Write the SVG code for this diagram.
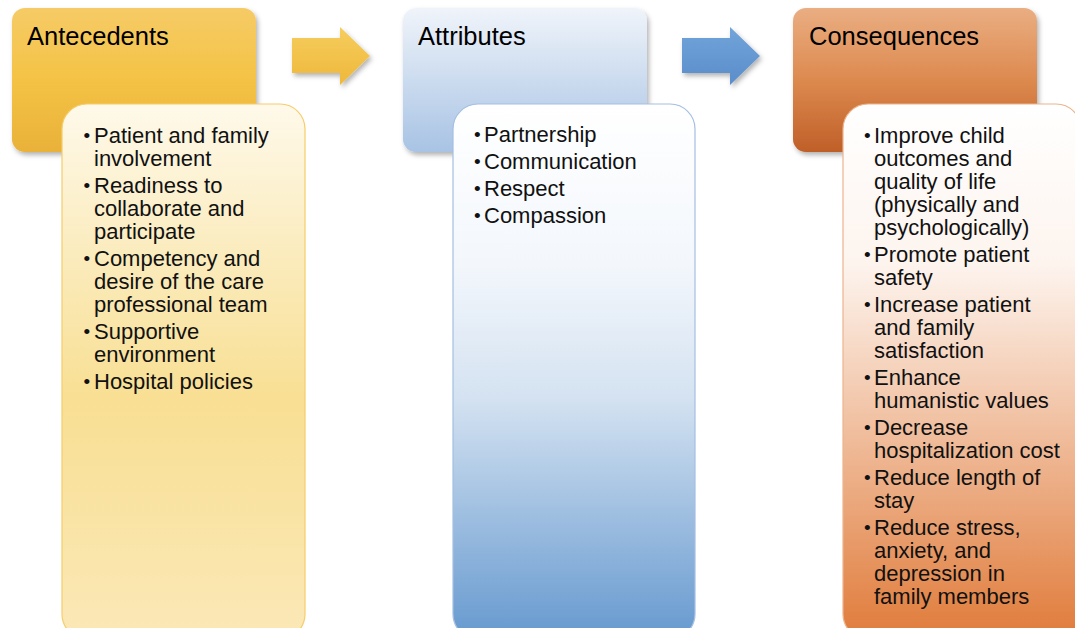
<svg xmlns="http://www.w3.org/2000/svg" width="1075" height="628" viewBox="0 0 1075 628">
<defs>
<linearGradient id="gYH" x1="0" y1="0" x2="0" y2="1"><stop offset="0" stop-color="#f6cb66"/><stop offset="0.5" stop-color="#f4c345"/><stop offset="1" stop-color="#e9b139"/></linearGradient>
<linearGradient id="gYD" x1="0" y1="0" x2="0" y2="1"><stop offset="0" stop-color="#fef9ea"/><stop offset="0.55" stop-color="#f8df93"/><stop offset="1" stop-color="#fbe8b7"/></linearGradient>
<linearGradient id="gBH" x1="0" y1="0" x2="0" y2="1"><stop offset="0" stop-color="#f0f4fa"/><stop offset="1" stop-color="#a8c3e4"/></linearGradient>
<linearGradient id="gBD" x1="0" y1="0" x2="0" y2="1"><stop offset="0" stop-color="#ffffff"/><stop offset="0.3" stop-color="#f3f7fc"/><stop offset="0.55" stop-color="#d4e2f1"/><stop offset="1" stop-color="#6699cf"/></linearGradient>
<linearGradient id="gOH" x1="0" y1="0" x2="0" y2="1"><stop offset="0" stop-color="#eaae82"/><stop offset="0.5" stop-color="#dd8a4f"/><stop offset="1" stop-color="#bf5f28"/></linearGradient>
<linearGradient id="gOD" x1="0" y1="0" x2="0" y2="1"><stop offset="0" stop-color="#ffffff"/><stop offset="0.3" stop-color="#fdf4ee"/><stop offset="1" stop-color="#e07b3a"/></linearGradient>
<linearGradient id="gYA" x1="0" y1="0" x2="0" y2="1"><stop offset="0" stop-color="#f6cd5e"/><stop offset="1" stop-color="#eeb83a"/></linearGradient>
<linearGradient id="gBA" x1="0" y1="0" x2="0" y2="1"><stop offset="0" stop-color="#72a4da"/><stop offset="1" stop-color="#5a8dca"/></linearGradient>
<filter id="sh" x="-10%" y="-10%" width="130%" height="130%"><feDropShadow dx="2" dy="3" stdDeviation="2.5" flood-color="#000" flood-opacity="0.3"/></filter>
</defs>
<style>
.h{font-family:"Liberation Sans",Arial,sans-serif;font-size:25.5px;fill:#000}
.t{font-family:"Liberation Sans",Arial,sans-serif;font-size:22px;fill:#111}
.b{font-size:19px}
</style>
<rect width="1075" height="628" fill="#ffffff"/>
<g id="connectors">
<path d="M292,38 H340 V27 L370,56 L340,85 V73 H292 Z" fill="url(#gYA)" filter="url(#sh)"/>
<path d="M682,38 H730 V27 L760,56 L730,85 V73 H682 Z" fill="url(#gBA)" filter="url(#sh)"/>
</g>
<g id="antecedents">
<rect x="12" y="8" width="244" height="144" rx="13" fill="url(#gYH)" filter="url(#sh)"/>
<text class="h" x="27" y="45">Antecedents</text>
</g>
<g id="antecedents-list">
<rect x="62" y="104" width="243" height="535" rx="25" fill="url(#gYD)" stroke="#f6cd6b" stroke-width="1.2"/>
<g class="t">
<text class="b" x="83.5" y="142">•</text>
<text x="94" y="143">Patient and family</text>
<text x="94" y="166">involvement</text>
<text class="b" x="83.5" y="192">•</text>
<text x="94" y="193">Readiness to</text>
<text x="94" y="216">collaborate and</text>
<text x="94" y="239">participate</text>
<text class="b" x="83.5" y="265">•</text>
<text x="94" y="266">Competency and</text>
<text x="94" y="289">desire of the care</text>
<text x="94" y="312">professional team</text>
<text class="b" x="83.5" y="338">•</text>
<text x="94" y="339">Supportive</text>
<text x="94" y="362">environment</text>
<text class="b" x="83.5" y="388">•</text>
<text x="94" y="389">Hospital policies</text>
</g>
</g>
<g id="attributes">
<rect x="403" y="8" width="244" height="144" rx="13" fill="url(#gBH)" filter="url(#sh)"/>
<text class="h" x="418" y="45">Attributes</text>
</g>
<g id="attributes-list">
<rect x="453" y="104" width="242" height="535" rx="25" fill="url(#gBD)" stroke="#a4bfe2" stroke-width="1.2"/>
<g class="t">
<text class="b" x="474" y="141">•</text>
<text x="484" y="142">Partnership</text>
<text class="b" x="474" y="168">•</text>
<text x="484" y="169">Communication</text>
<text class="b" x="474" y="195">•</text>
<text x="484" y="196">Respect</text>
<text class="b" x="474" y="222">•</text>
<text x="484" y="223">Compassion</text>
</g>
</g>
<g id="consequences">
<rect x="793" y="8" width="244" height="144" rx="13" fill="url(#gOH)" filter="url(#sh)"/>
<text class="h" x="809" y="45">Consequences</text>
</g>
<g id="consequences-list">
<rect x="843" y="104" width="238" height="535" rx="25" fill="url(#gOD)" stroke="#ecb48d" stroke-width="1.2"/>
<g class="t">
<text class="b" x="864" y="142">•</text>
<text x="874" y="143">Improve child</text>
<text x="874" y="166">outcomes and</text>
<text x="874" y="189">quality of life</text>
<text x="874" y="212">(physically and</text>
<text x="874" y="235">psychologically)</text>
<text class="b" x="864" y="261">•</text>
<text x="874" y="262">Promote patient</text>
<text x="874" y="285">safety</text>
<text class="b" x="864" y="311">•</text>
<text x="874" y="312">Increase patient</text>
<text x="874" y="335">and family</text>
<text x="874" y="358">satisfaction</text>
<text class="b" x="864" y="384">•</text>
<text x="874" y="385">Enhance</text>
<text x="874" y="408">humanistic values</text>
<text class="b" x="864" y="434">•</text>
<text x="874" y="435">Decrease</text>
<text x="874" y="458">hospitalization cost</text>
<text class="b" x="864" y="484">•</text>
<text x="874" y="485">Reduce length of</text>
<text x="874" y="508">stay</text>
<text class="b" x="864" y="534">•</text>
<text x="874" y="535">Reduce stress,</text>
<text x="874" y="558">anxiety, and</text>
<text x="874" y="581">depression in</text>
<text x="874" y="604">family members</text>
</g>
</g>
</svg>
